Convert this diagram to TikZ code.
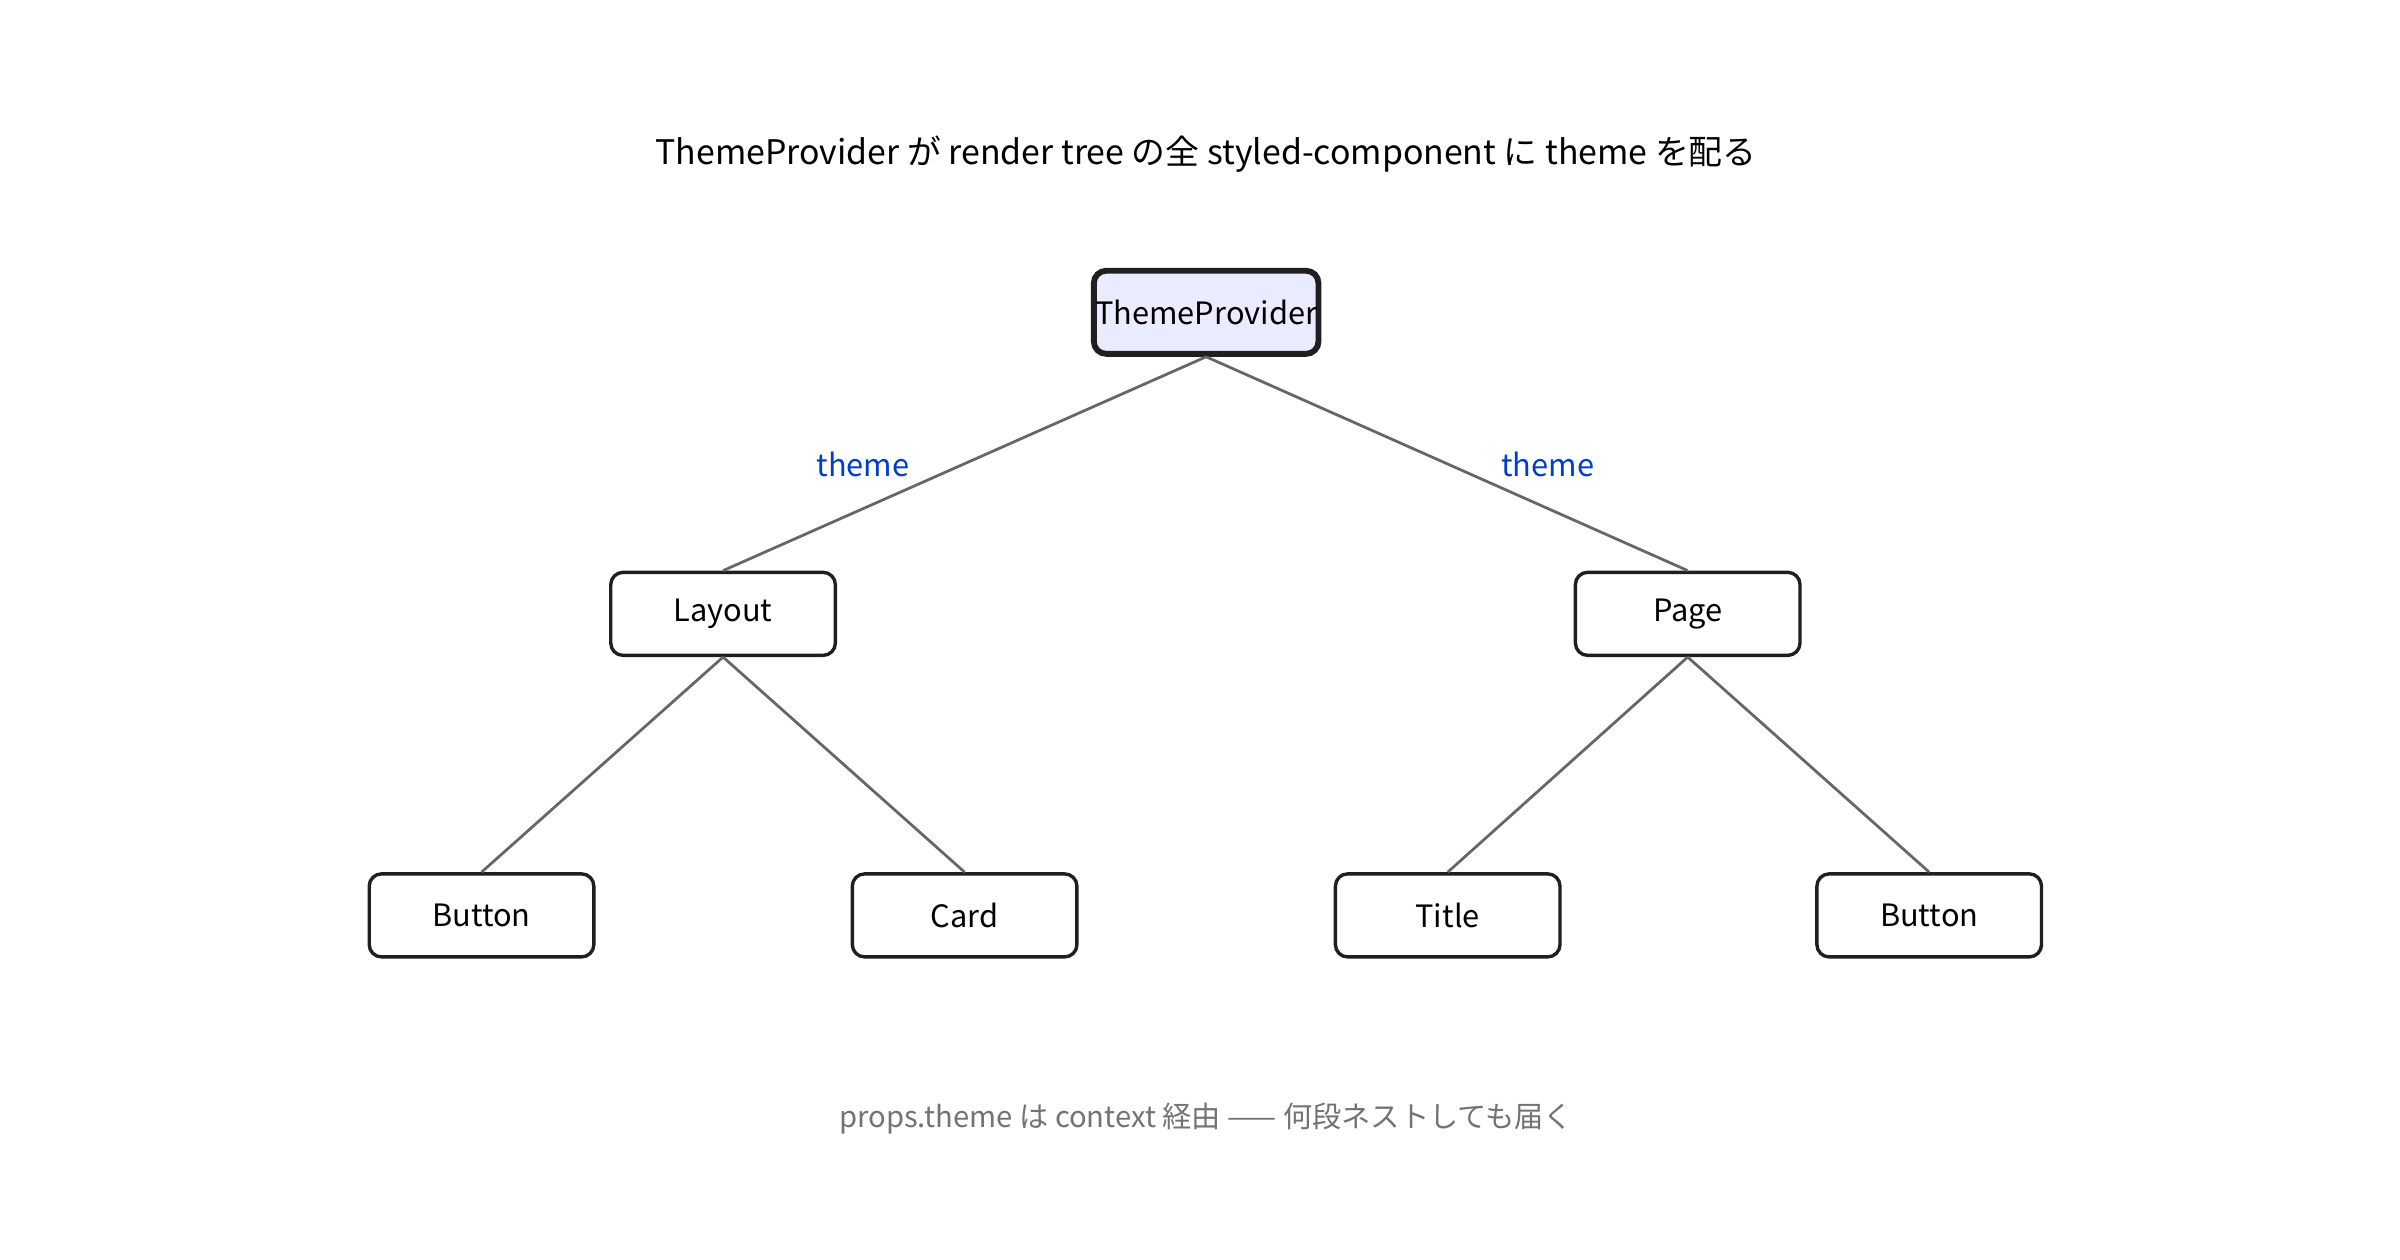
\documentclass[tikz,border=0pt]{standalone}
\usepackage{fontspec}
\setmainfont{Noto Sans CJK JP}
\begin{document}
\begin{tikzpicture}[x=0.5pt,y=-0.5pt,
  box/.style={draw=black!88,line width=1.1pt,rounded corners=4pt,minimum width=73pt,minimum height=27pt,inner sep=0pt,font=\fontsize{10}{12}\selectfont,fill=white},
  root/.style={box,line width=1.9pt,fill=blue!8},
  edge/.style={draw=black!60,line width=0.9pt},
  lab/.style={text=blue!70!cyan!80!black,font=\fontsize{10}{12}\selectfont}]
\useasboundingbox (0,0) rectangle (1560,819);
\node[font=\fontsize{11}{13}\selectfont] (title) at (784,100) {ThemeProvider が render tree の全 styled-component に theme を配る};
\node[root] (tp) at (784,203) {ThemeProvider};
\node[box] (layout) at (470,399) {Layout};
\node[box] (page) at (1097,399) {Page};
\node[box] (b1) at (313,595) {Button};
\node[box] (card) at (627,595) {Card};
\node[box] (t) at (941,595) {Title};
\node[box] (b2) at (1254,595) {Button};
\draw[edge] (tp.south) -- (layout.north);
\draw[edge] (tp.south) -- (page.north);
\draw[edge] (layout.south) -- (b1.north);
\draw[edge] (layout.south) -- (card.north);
\draw[edge] (page.south) -- (t.north);
\draw[edge] (page.south) -- (b2.north);
\node[lab] (l1) at (561,302) {theme};
\node[lab] (l2) at (1006,302) {theme};
\node[text=black!55,font=\fontsize{9.5}{12}\selectfont] (foot) at (784,727) {props.theme は context 経由 —— 何段ネストしても届く};
\end{tikzpicture}
\end{document}
